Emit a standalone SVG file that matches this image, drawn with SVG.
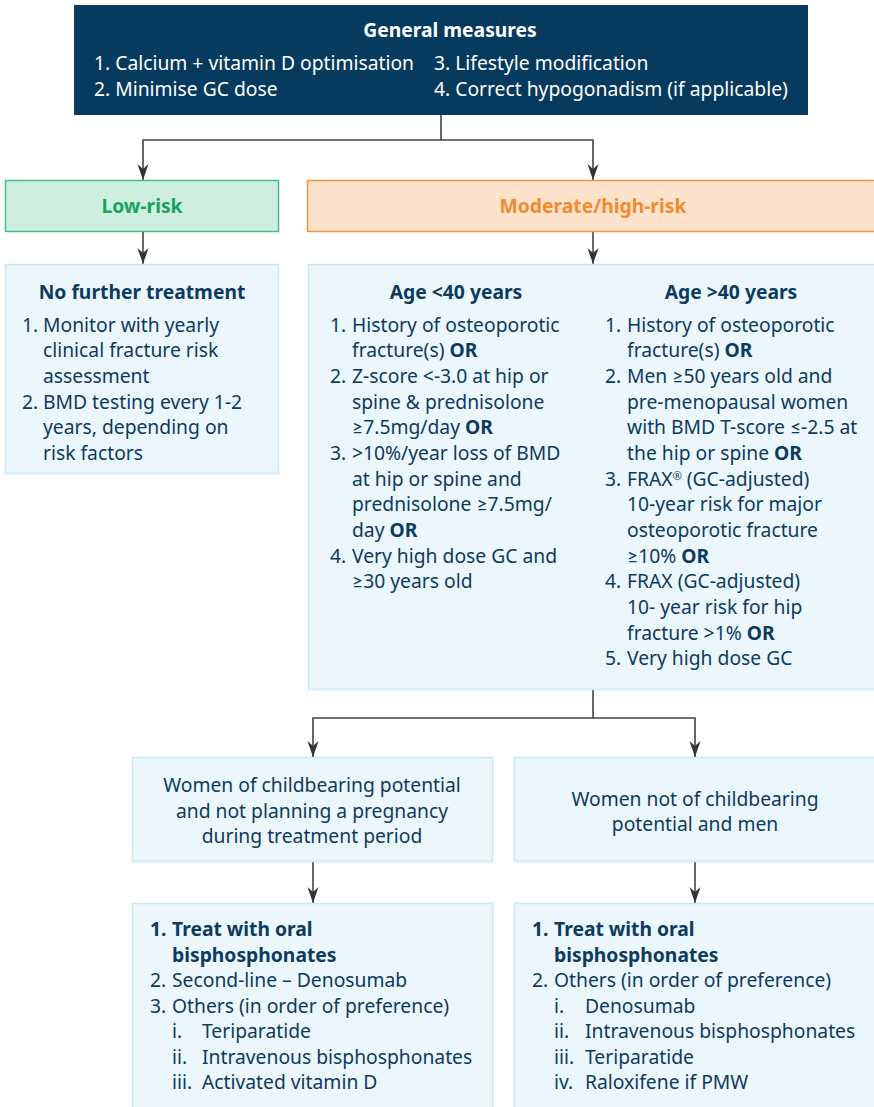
<svg xmlns="http://www.w3.org/2000/svg" width="874" height="1107" viewBox="0 0 874 1107">
<style>
text{font-family:"Noto Sans",Lato,"Liberation Sans",sans-serif;font-size:19.3px;fill:#0d3b5e}
.b{font-weight:bold}
.w{fill:#ffffff}
.c{text-anchor:middle}
.box{fill:#ebf6fd;stroke:#cbe8f6;stroke-width:1.5}
.con{fill:none;stroke:#444;stroke-width:1.6}
</style>
<defs>
<marker id="ah" markerUnits="userSpaceOnUse" markerWidth="16" markerHeight="12" refX="16" refY="6" orient="auto">
<path d="M0,0.5 L16,6 L0,11.5 L5,6 Z" fill="#333"/>
</marker>
</defs>
<rect width="874" height="1107" fill="#ffffff"/>

<g id="connectors">
<path class="con" d="M441,115 V140 H143 V180" marker-end="url(#ah)"/>
<path class="con" d="M441,140 H593 V180" marker-end="url(#ah)"/>
<path class="con" d="M143,232 V264" marker-end="url(#ah)"/>
<path class="con" d="M593,232 V264" marker-end="url(#ah)"/>
<path class="con" d="M593,690 V718 H313 V757" marker-end="url(#ah)"/>
<path class="con" d="M593,718 H695 V757" marker-end="url(#ah)"/>
<path class="con" d="M313,862 V903" marker-end="url(#ah)"/>
<path class="con" d="M695,862 V903" marker-end="url(#ah)"/>
</g>

<g id="general">
<rect x="74" y="5" width="734" height="110" fill="#063a5e"/>
<text class="b w c" x="450" y="37">General measures</text>
<text class="w" x="94" y="70">1. Calcium + vitamin D optimisation</text>
<text class="w" x="94" y="96">2. Minimise GC dose</text>
<text class="w" x="434" y="70">3. Lifestyle modification</text>
<text class="w" x="434" y="96">4. Correct hypogonadism (if applicable)</text>
</g>

<g id="lowrisk">
<rect x="5.5" y="180.5" width="273" height="51" fill="#cdeee0" stroke="#45c08a" stroke-width="1.5"/>
<text class="b c" x="142" y="213" style="fill:#16a35c">Low-risk</text>
</g>

<g id="modrisk">
<rect x="307.5" y="180.5" width="570" height="51" fill="#fde2cc" stroke="#f0924a" stroke-width="1.5"/>
<text class="b c" x="593" y="213" style="fill:#f28a2e">Moderate/high-risk</text>
</g>

<g id="nofurther">
<rect class="box" x="5.5" y="264.5" width="273" height="209"/>
<text class="b c" x="142" y="299">No further treatment</text>
<text x="22" y="332">1.</text><text x="43" y="332">Monitor with yearly</text>
<text x="43" y="357">clinical fracture risk</text>
<text x="43" y="383">assessment</text>
<text x="22" y="409">2.</text><text x="43" y="409">BMD testing every 1-2</text>
<text x="43" y="434">years, depending on</text>
<text x="43" y="460">risk factors</text>
</g>

<g id="criteria">
<rect class="box" x="308.5" y="264.5" width="570" height="425"/>
<text class="b c" x="456" y="299">Age &lt;40 years</text>
<text x="330" y="332">1.</text><text x="352" y="332">History of osteoporotic</text>
<text x="352" y="357">fracture(s) <tspan class="b">OR</tspan></text>
<text x="330" y="383">2.</text><text x="352" y="383">Z-score &lt;-3.0 at hip or</text>
<text x="352" y="409">spine &amp; prednisolone</text>
<text x="352" y="434">≥7.5mg/day <tspan class="b">OR</tspan></text>
<text x="330" y="460">3.</text><text x="352" y="460">&gt;10%/year loss of BMD</text>
<text x="352" y="486">at hip or spine and</text>
<text x="352" y="511">prednisolone ≥7.5mg/</text>
<text x="352" y="537">day <tspan class="b">OR</tspan></text>
<text x="330" y="563">4.</text><text x="352" y="563">Very high dose GC and</text>
<text x="352" y="588">≥30 years old</text>

<text class="b c" x="731" y="299">Age &gt;40 years</text>
<text x="605" y="332">1.</text><text x="627" y="332">History of osteoporotic</text>
<text x="627" y="357">fracture(s) <tspan class="b">OR</tspan></text>
<text x="605" y="383">2.</text><text x="627" y="383">Men ≥50 years old and</text>
<text x="627" y="409">pre-menopausal women</text>
<text x="627" y="434">with BMD T-score ≤-2.5 at</text>
<text x="627" y="460">the hip or spine <tspan class="b">OR</tspan></text>
<text x="605" y="486">3.</text><text x="627" y="486">FRAX<tspan font-size="11" dy="-6">®</tspan><tspan dy="6"> (GC-adjusted)</tspan></text>
<text x="627" y="511">10-year risk for major</text>
<text x="627" y="537">osteoporotic fracture</text>
<text x="627" y="563">≥10% <tspan class="b">OR</tspan></text>
<text x="605" y="588">4.</text><text x="627" y="588">FRAX (GC-adjusted)</text>
<text x="627" y="614">10- year risk for hip</text>
<text x="627" y="640">fracture &gt;1% <tspan class="b">OR</tspan></text>
<text x="605" y="665">5.</text><text x="627" y="665">Very high dose GC</text>
</g>

<g id="women-cb">
<rect class="box" x="132.5" y="757.5" width="360" height="104"/>
<text class="c" x="312" y="792">Women of childbearing potential</text>
<text class="c" x="312" y="818">and not planning a pregnancy</text>
<text class="c" x="312" y="843">during treatment period</text>
</g>

<g id="women-ncb">
<rect class="box" x="514.5" y="757.5" width="364" height="104"/>
<text class="c" x="695" y="806">Women not of childbearing</text>
<text class="c" x="695" y="831">potential and men</text>
</g>

<g id="treat-cb">
<rect class="box" x="132.5" y="903.5" width="360" height="210"/>
<text class="b" x="150" y="936">1.</text><text class="b" x="172" y="936">Treat with oral</text>
<text class="b" x="172" y="962">bisphosphonates</text>
<text x="150" y="987">2.</text><text x="172" y="987">Second-line – Denosumab</text>
<text x="150" y="1013">3.</text><text x="172" y="1013">Others (in order of preference)</text>
<text x="172" y="1038">i.</text><text x="202" y="1038">Teriparatide</text>
<text x="172" y="1064">ii.</text><text x="202" y="1064">Intravenous bisphosphonates</text>
<text x="172" y="1089">iii.</text><text x="202" y="1089">Activated vitamin D</text>
</g>

<g id="treat-ncb">
<rect class="box" x="514.5" y="903.5" width="364" height="210"/>
<text class="b" x="532" y="936">1.</text><text class="b" x="554" y="936">Treat with oral</text>
<text class="b" x="554" y="962">bisphosphonates</text>
<text x="532" y="987">2.</text><text x="554" y="987">Others (in order of preference)</text>
<text x="554" y="1013">i.</text><text x="585" y="1013">Denosumab</text>
<text x="554" y="1038">ii.</text><text x="585" y="1038">Intravenous bisphosphonates</text>
<text x="554" y="1064">iii.</text><text x="585" y="1064">Teriparatide</text>
<text x="554" y="1089">iv.</text><text x="585" y="1089">Raloxifene if PMW</text>
</g>
</svg>
